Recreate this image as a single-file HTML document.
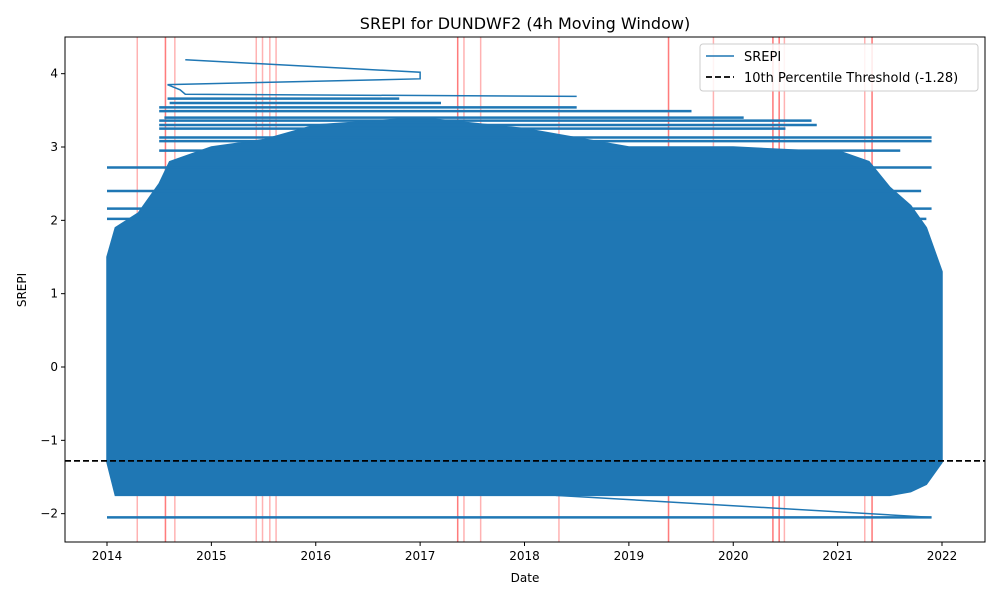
<!DOCTYPE html>
<html><head><meta charset="utf-8"><style>
body{margin:0;background:#fff;font-family:"Liberation Sans","DejaVu Sans",sans-serif;}
svg text{font-family:"DejaVu Sans","Liberation Sans",sans-serif;}
</style></head><body>
<svg id="chart" width="1000" height="600"></svg>
<script>
const yTicks=[-2,-1,0,1,2,3,4];
const xTicks=[2014,2015,2016,2017,2018,2019,2020,2021,2022];
const eventDates=[2014.29,2014.56,2014.56,2014.65,2015.43,2015.49,2015.56,2015.62,2017.36,2017.36,2017.42,2017.58,2018.33,2019.38,2019.38,2019.81,2020.38,2020.38,2020.44,2020.44,2020.49,2021.26,2021.33,2021.33];
const envDates=[2014.0,2014.08,2014.3,2014.5,2014.6,2015.0,2015.5,2016,2017,2018,2019,2020,2020.7,2021,2021.3,2021.5,2021.7,2021.85,2022.0,2022.0];
const envUpper=[1.5,1.9,2.1,2.5,2.8,3.0,3.1,3.3,3.4,3.25,3.0,3.0,2.95,2.95,2.8,2.45,2.2,1.9,1.3,1.3];
const envLower=[-1.3,-1.75,-1.75,-1.75,-1.75,-1.75,-1.75,-1.75,-1.75,-1.75,-1.75,-1.75,-1.75,-1.75,-1.75,-1.75,-1.7,-1.6,-1.3,-1.3];
const segY=[3.66,3.6,3.54,3.49,3.4,3.36,3.3,3.25,3.13,3.08,2.95,2.72,2.4,2.16,2.02,-2.05];
const segStart=[2014.58,2014.6,2014.5,2014.5,2014.55,2014.5,2014.5,2014.5,2014.5,2014.5,2014.5,2014.0,2014.0,2014.0,2014.0,2014.0];
const segEnd=[2016.8,2017.2,2018.5,2019.6,2020.1,2020.75,2020.8,2020.5,2021.9,2021.9,2021.6,2021.9,2021.8,2021.9,2021.85,2021.9];
const pathDates=[2014.75,2017.0,2017.0,2014.58,2014.7,2014.75,2018.5];
const pathVals=[4.19,4.02,3.93,3.85,3.78,3.72,3.69];
const slantDates=[2018.3,2021.9];
const slantVals=[-1.75,-2.05];
const threshold=-1.28;

const L=65,R=985,T=37,B=542;
const X=d=>107+(d-2014)*104.375;
const Y=v=>367-v*73.33;
const NS="http://www.w3.org/2000/svg";
const svg=document.getElementById('chart');
function mk(tag,attrs,parent){const e=document.createElementNS(NS,tag);for(const k in attrs)e.setAttribute(k,attrs[k]);(parent||svg).appendChild(e);return e;}

const clip=mk('clipPath',{id:'c'});mk('rect',{x:L,y:T,width:R-L,height:B-T},clip);
const g=mk('g',{'clip-path':'url(#c)'});



eventDates.forEach(d=>{const l=mk('line',{x1:X(d),x2:X(d),y1:T,y2:B,stroke:'#ff0000','stroke-opacity':0.3,'stroke-width':1.5},g);

});

let pts=envDates.map((d,i)=>X(d)+','+Y(envUpper[i]));
for(let i=envDates.length-1;i>=0;i--)pts.push(X(envDates[i])+','+Y(envLower[i]));
const body=mk('polygon',{points:pts.join(' '),fill:'#1f77b4',stroke:'#1f77b4','stroke-width':1.5},g);



segY.forEach((v,i)=>{const l=mk('line',{x1:X(segStart[i]),x2:X(segEnd[i]),y1:Y(v),y2:Y(v),stroke:'#1f77b4','stroke-width':2.5},g);

});
const p=mk('polyline',{points:pathDates.map((d,i)=>X(d)+','+Y(pathVals[i])).join(' '),fill:'none',stroke:'#1f77b4','stroke-width':1.5},g);


const s=mk('polyline',{points:slantDates.map((d,i)=>X(d)+','+Y(slantVals[i])).join(' '),fill:'none',stroke:'#1f77b4','stroke-width':1.5},g);



const th=mk('line',{x1:L,x2:R,y1:Y(threshold),y2:Y(threshold),stroke:'#000','stroke-width':1.8,'stroke-dasharray':'6,3'},g);



const frame=mk('rect',{x:L,y:T,width:R-L,height:B-T,fill:'none',stroke:'#000','stroke-width':1});



yTicks.forEach(v=>{mk('line',{x1:L-4,x2:L,y1:Y(v),y2:Y(v),stroke:'#000'});
const t=mk('text',{x:L-7,y:Y(v)+4,'text-anchor':'end','font-size':12});t.textContent=v<0?'\u2212'+(-v):v;

});
xTicks.forEach(d=>{mk('line',{x1:X(d),x2:X(d),y1:B,y2:B+4,stroke:'#000'});
const t=mk('text',{x:X(d),y:B+18,'text-anchor':'middle','font-size':12});t.textContent=d;

});

const title=mk('text',{x:525,y:29,'text-anchor':'middle','font-size':16});title.textContent='SREPI for DUNDWF2 (4h Moving Window)';


const xl=mk('text',{x:525,y:582,'text-anchor':'middle','font-size':12});xl.textContent='Date';


const yl=mk('text',{x:26,y:290,'text-anchor':'middle','font-size':12,transform:'rotate(-90 26 290)'});yl.textContent='SREPI';



const lg=mk('g',{});


mk('rect',{x:700,y:44,width:278,height:47,rx:3,fill:'#fff','fill-opacity':0.85,stroke:'#ccc'},lg);
mk('line',{x1:706,x2:734,y1:56,y2:56,stroke:'#1f77b4','stroke-width':1.5},lg);
const t1=mk('text',{x:744,y:61,'font-size':13},lg);t1.textContent='SREPI';


mk('line',{x1:706,x2:734,y1:77,y2:77,stroke:'#000','stroke-width':1.8,'stroke-dasharray':'6,3'},lg);
const t2=mk('text',{x:744,y:82,'font-size':13},lg);t2.textContent='10th Percentile Threshold (-1.28)';


</script>
</body></html>
